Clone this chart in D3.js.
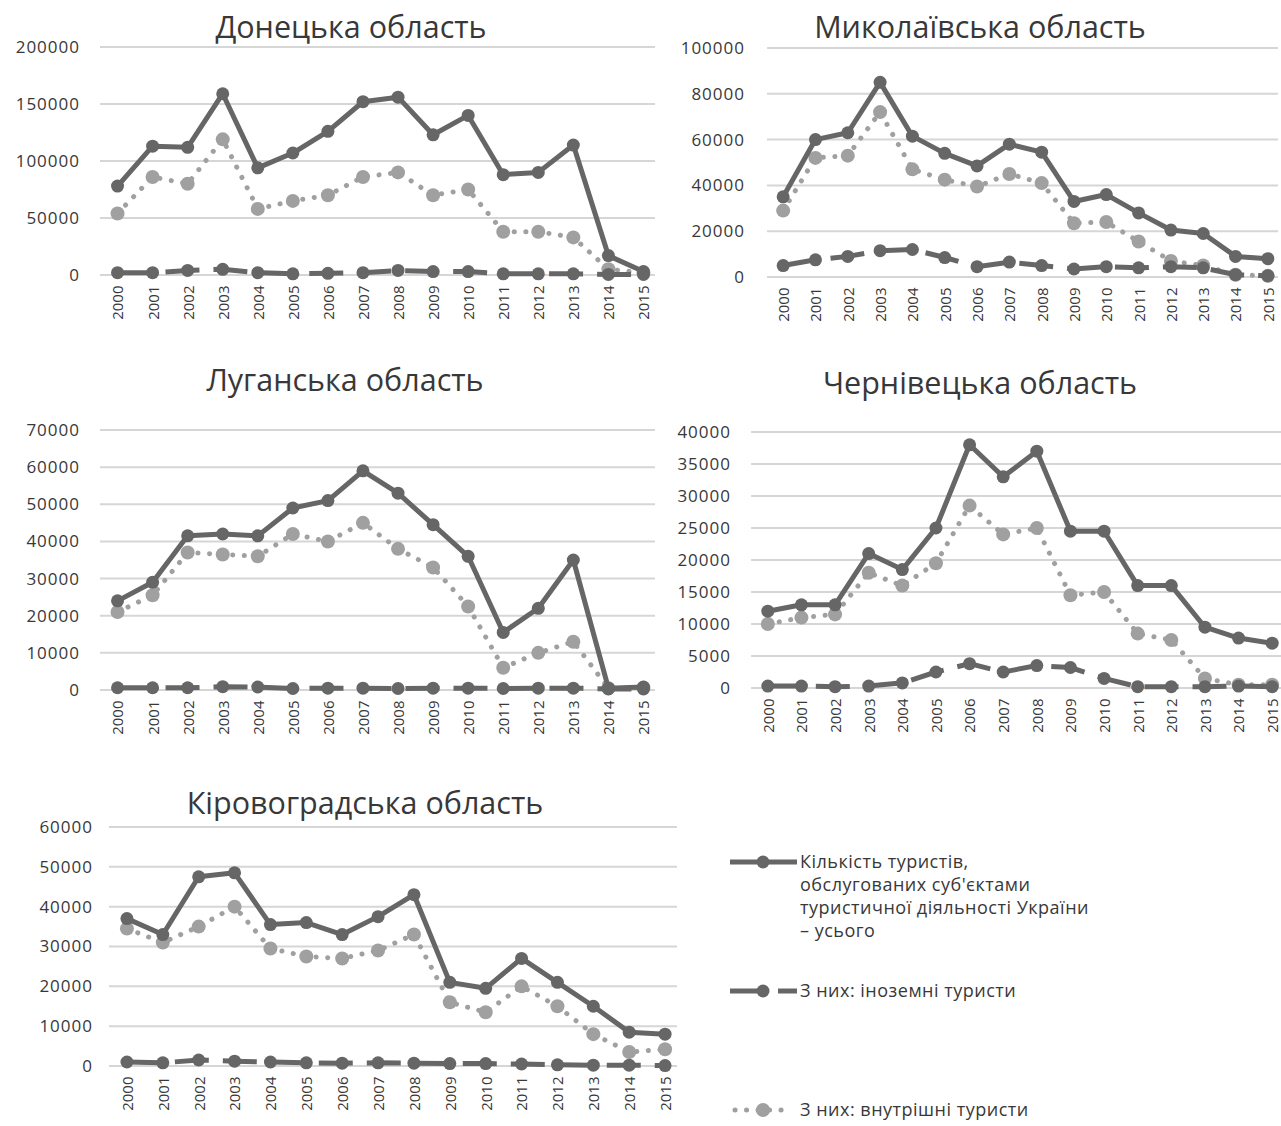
<!DOCTYPE html>
<html><head><meta charset="utf-8">
<script src="https://cdn.jsdelivr.net/npm/d3@7"></script>
<style>
body{margin:0;background:#fff;}
svg{display:block;}
text{font-family:"Open Sans","DejaVu Sans",sans-serif;}
</style></head>
<body>
<svg id="c" width="1281" height="1126"></svg>
<script>
const years = ["2000","2001","2002","2003","2004","2005","2006","2007","2008","2009","2010","2011","2012","2013","2014","2015"];

const titles = ["Донецька область","Миколаївська область","Луганська область","Чернівецька область","Кіровоградська область"];

// Донецька
const donTotal    = [78000,113000,112000,159000,94000,107000,126000,152000,156000,123000,140000,88000,90000,114000,17000,3000];
const donForeign  = [2000,2000,4000,5000,2000,1000,1500,2000,4000,3000,3000,1000,1000,1000,500,500];
const donDomestic = [54000,86000,80000,119000,58000,65000,70000,86000,90000,70000,75000,38000,38000,33000,5000,2000];
const donTicks    = [0,50000,100000,150000,200000];

// Миколаївська
const mykTotal    = [35000,60000,63000,85000,61500,54000,48500,58000,54500,33000,36000,28000,20500,19000,9000,8000];
const mykForeign  = [5000,7500,9000,11500,12000,8500,4500,6500,5000,3500,4500,4000,4500,4000,1000,500];
const mykDomestic = [29000,52000,53000,72000,47000,42500,39500,45000,41000,23500,24000,15500,7000,5000,1000,500];
const mykTicks    = [0,20000,40000,60000,80000,100000];

// Луганська
const lugTotal    = [24000,29000,41500,42000,41500,49000,51000,59000,53000,44500,36000,15500,22000,35000,500,800];
const lugForeign  = [600,600,600,900,800,400,500,500,400,500,500,400,500,500,300,300];
const lugDomestic = [21000,25500,37000,36500,36000,42000,40000,45000,38000,33000,22500,6000,10000,13000,500,600];
const lugTicks    = [0,10000,20000,30000,40000,50000,60000,70000];

// Чернівецька
const chrTotal    = [12000,13000,13000,21000,18500,25000,38000,33000,37000,24500,24500,16000,16000,9500,7800,7000];
const chrForeign  = [300,300,200,300,800,2500,3800,2500,3500,3200,1500,200,200,200,300,200];
const chrDomestic = [10000,11000,11500,18000,16000,19500,28500,24000,25000,14500,15000,8500,7500,1500,500,500];
const chrTicks    = [0,5000,10000,15000,20000,25000,30000,35000,40000];

// Кіровоградська
const kirTotal    = [37000,33000,47500,48500,35500,36000,33000,37500,43000,21000,19500,27000,21000,15000,8500,8000];
const kirForeign  = [1000,800,1500,1200,1000,800,700,800,700,600,600,500,300,200,200,100];
const kirDomestic = [34500,31000,35000,40000,29500,27500,27000,29000,33000,16000,13500,20000,15000,8000,3500,4200];
const kirTicks    = [0,10000,20000,30000,40000,50000,60000];

const legendLabels = [
  ["Кількість туристів,","обслугованих суб'єктами","туристичної діяльності України","– усього"],
  ["З них: іноземні туристи"],
  ["З них: внутрішні туристи"]
];

const panels = [
  {title:titles[0], total:donTotal, foreign:donForeign, domestic:donDomestic, ticks:donTicks,
   x0:100, x1:661, y0:275, y1:47, labelX:80, titleX:351, titleY:27},
  {title:titles[1], total:mykTotal, foreign:mykForeign, domestic:mykDomestic, ticks:mykTicks,
   x0:767, x1:1284, y0:277, y1:48, labelX:745, titleX:980, titleY:27},
  {title:titles[2], total:lugTotal, foreign:lugForeign, domestic:lugDomestic, ticks:lugTicks,
   x0:100, x1:661, y0:690, y1:430, labelX:80, titleX:345, titleY:380},
  {title:titles[3], total:chrTotal, foreign:chrForeign, domestic:chrDomestic, ticks:chrTicks,
   x0:751, x1:1289, y0:688, y1:432, labelX:731, titleX:980, titleY:383},
  {title:titles[4], total:kirTotal, foreign:kirForeign, domestic:kirDomestic, ticks:kirTicks,
   x0:109, x1:683, y0:1066, y1:827, labelX:93, titleX:365, titleY:803}
];

const cTotal = "#666666", cForeign = "#666666", cDomestic = "#a0a0a0", cGrid = "#d6d6d6", cText = "#383838";
const svg = d3.select("#c");

panels.forEach(p => {
  const g = svg.append("g");
  const x = d3.scalePoint().domain(years).range([p.x0, p.x1]).padding(0.5);
  const yMax = p.ticks[p.ticks.length-1];
  const y = d3.scaleLinear().domain([0, yMax]).range([p.y0, p.y1]);
  const gridRight = Math.min(p.x1 - 6, 1281);

  g.selectAll("line.grid").data(p.ticks).join("line")
    .attr("x1", p.x0).attr("x2", gridRight)
    .attr("y1", d => y(d)).attr("y2", d => y(d))
    .attr("stroke", cGrid).attr("stroke-width", 2);

  const ya = g.append("g").attr("transform", `translate(${p.labelX},0)`)
    .call(d3.axisLeft(y).tickValues(p.ticks).tickSize(0).tickPadding(0).tickFormat(d3.format("d")));
  ya.select(".domain").remove();
  ya.selectAll("text").attr("font-size", 17).attr("letter-spacing", 1).attr("fill", cText);

  const xa = g.append("g").attr("transform", `translate(0,${p.y0 + 9})`)
    .call(d3.axisBottom(x).tickSize(0).tickPadding(0));
  xa.select(".domain").remove();
  xa.selectAll("text").attr("font-size", 15).attr("fill", cText)
    .attr("transform", "rotate(-90)").attr("text-anchor", "end")
    .attr("x", 0).attr("y", 0).attr("dy", "0.36em").attr("dx", "-0.1em");

  g.append("text").attr("x", p.titleX).attr("y", p.titleY).attr("dy", "0.35em")
    .attr("text-anchor", "middle").attr("font-size", 30.5).attr("fill", cText).text(p.title);

  const line = d3.line().x((d,i) => x(years[i])).y(d => y(d));

  g.append("path").datum(p.domestic).attr("d", line).attr("fill", "none")
    .attr("stroke", cDomestic).attr("stroke-width", 5).attr("stroke-linecap", "round")
    .attr("stroke-dasharray", "0.1,11.5");
  g.selectAll("circle.dom").data(p.domestic).join("circle")
    .attr("cx", (d,i) => x(years[i])).attr("cy", d => y(d)).attr("r", 7).attr("fill", cDomestic);

  g.append("path").datum(p.foreign).attr("d", line).attr("fill", "none")
    .attr("stroke", cForeign).attr("stroke-width", 5)
    .attr("stroke-dasharray", "34,14");
  g.selectAll("circle.for").data(p.foreign).join("circle")
    .attr("cx", (d,i) => x(years[i])).attr("cy", d => y(d)).attr("r", 6.5).attr("fill", cForeign);

  g.append("path").datum(p.total).attr("d", line).attr("fill", "none")
    .attr("stroke", cTotal).attr("stroke-width", 5).attr("stroke-linejoin", "round");
  g.selectAll("circle.tot").data(p.total).join("circle")
    .attr("cx", (d,i) => x(years[i])).attr("cy", d => y(d)).attr("r", 6.5).attr("fill", cTotal);
});

// legend
const lg = svg.append("g");
const legY = [862, 991, 1110];
const textX = 800;
lg.append("line").attr("x1", 730).attr("x2", 797).attr("y1", legY[0]).attr("y2", legY[0])
  .attr("stroke", cTotal).attr("stroke-width", 5);
lg.append("circle").attr("cx", 763).attr("cy", legY[0]).attr("r", 6.5).attr("fill", cTotal);
lg.append("line").attr("x1", 730).attr("x2", 797).attr("y1", legY[1]).attr("y2", legY[1])
  .attr("stroke", cForeign).attr("stroke-width", 5).attr("stroke-dasharray", "34,14");
lg.append("circle").attr("cx", 763).attr("cy", legY[1]).attr("r", 6.5).attr("fill", cForeign);
lg.append("line").attr("x1", 735).attr("x2", 792).attr("y1", legY[2]).attr("y2", legY[2])
  .attr("stroke", cDomestic).attr("stroke-width", 5).attr("stroke-linecap", "round")
  .attr("stroke-dasharray", "0.1,11.4");
lg.append("circle").attr("cx", 763).attr("cy", legY[2]).attr("r", 7).attr("fill", cDomestic);

legendLabels.forEach((lines, k) => {
  lines.forEach((t, j) => {
    lg.append("text").attr("x", textX).attr("y", legY[k] + j*23).attr("dy", "0.35em")
      .attr("font-size", 18).attr("letter-spacing", 0.5).attr("fill", cText).text(t);
  });
});
</script>
</body></html>
